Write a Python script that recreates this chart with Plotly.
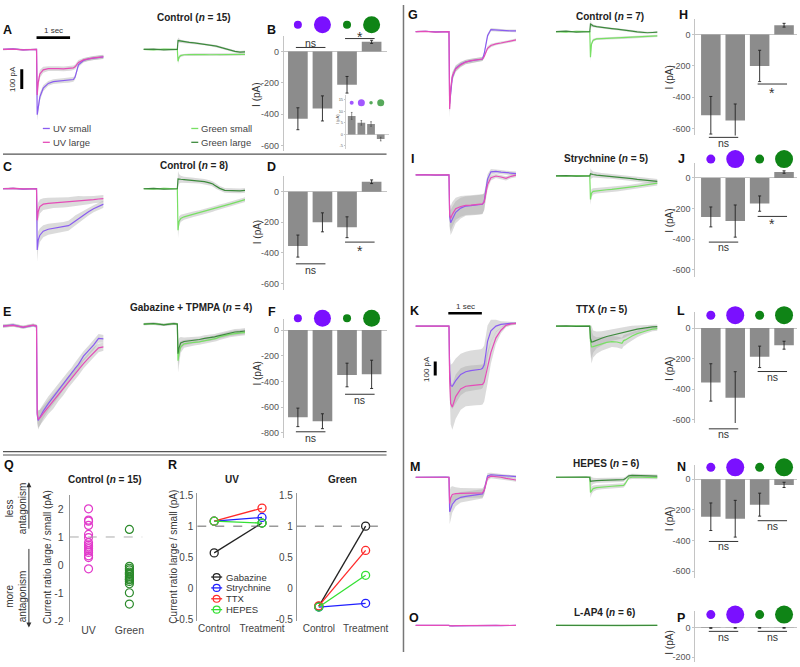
import plotly.graph_objects as go

W, H = 800, 667
FONT = "Liberation Sans, Arial, Helvetica, sans-serif"

# ---------------------------------------------------------------- data
# time grid of the mean current traces (s); light on 1.0 s, off ~2.05 s
T = [0.0, 0.3, 0.6, 0.9, 1.0, 1.02, 1.05, 1.1, 1.2, 1.35, 1.5, 1.65, 1.8, 1.95,
     2.0, 2.05, 2.1, 2.15, 2.25, 2.4, 2.55, 2.7, 2.85, 3.0]

# A  Control (n = 15)  [pA]
A_UV_SMALL = [0, 3, -2, 2, 0, -330, -290, -240, -196, -172, -163, -160, -158, -156, -155, -154, -152, -140, -78, -56, -48, -44, -40, -38]
A_UV_LARGE = [0, 2, -2, 1, 0, -230, -168, -124, -103, -97, -96, -97, -98, -97, -96, -95, -93, -88, -66, -53, -47, -43, -40, -37]
A_UV_SEM = [4, 4, 4, 4, 4, 30, 25, 20, 15, 12, 12, 12, 12, 12, 12, 12, 12, 12, 12, 10, 10, 10, 10, 10]
A_GR_SMALL = [0, -2, 2, -1, 0, -60, -40, -31, -27, -26, -25, -25, -26, -27, -27, -27, -26, -26, -27, -28, -28, -27, -26, -25]
A_GR_LARGE = [0, 2, -2, 1, 0, 45, 44, 42, 39, 36, 33, 30, 27, 24, 22, 20, 19, 17, 12, 4, -4, -10, -14, -12]
A_GR_SEM = [3, 3, 3, 3, 3, 15, 10, 7, 6, 6, 6, 6, 6, 6, 6, 6, 6, 6, 6, 6, 6, 6, 6, 6]

# C  Control (n = 8)
C_UV_SMALL = [0, 2, -2, 1, 0, -310, -260, -235, -215, -205, -200, -197, -193, -187, -182, -176, -168, -160, -150, -133, -116, -101, -89, -78]
C_UV_LARGE = [0, 2, -1, 1, 0, -160, -115, -90, -78, -74, -72, -71, -70, -68, -67, -66, -65, -64, -62, -60, -58, -55, -52, -50]
C_UV_SEM = [4, 4, 4, 4, 4, 60, 45, 35, 30, 28, 26, 25, 25, 25, 25, 25, 25, 25, 25, 22, 20, 18, 18, 18]
C_GR_SMALL = [0, -2, 2, -1, 0, -210, -165, -150, -142, -135, -128, -122, -116, -108, -105, -103, -100, -97, -92, -85, -78, -70, -62, -55]
C_GR_LARGE = [0, 2, -2, 1, 0, 50, 50, 48, 46, 44, 42, 40, 36, 30, 28, 24, 18, 12, 2, -8, -10, -12, -11, -8]
C_GR_SEM = [3, 3, 3, 3, 3, 40, 25, 18, 15, 14, 14, 13, 13, 13, 13, 13, 13, 13, 12, 12, 12, 12, 12, 12]

# E  Gabazine + TPMPA (n = 4)
E_UV_SMALL = [0, 6, -6, 4, 0, -450, -478, -460, -430, -392, -360, -328, -292, -258, -250, -240, -226, -214, -194, -152, -124, -96, -62, -65]
E_UV_LARGE = [0, 4, -5, 5, 0, -440, -470, -465, -442, -410, -384, -348, -318, -282, -275, -262, -252, -240, -222, -190, -162, -134, -110, -105]
E_UV_SEM = [8, 8, 8, 8, 8, 40, 45, 40, 38, 35, 35, 33, 32, 30, 30, 30, 30, 30, 28, 25, 25, 25, 22, 20]
E_GR_SMALL = [0, 2, -3, 3, 0, -185, -150, -115, -100, -95, -92, -90, -85, -80, -78, -76, -74, -72, -65, -58, -52, -48, -44, -42]
E_GR_LARGE = [0, 3, -4, 2, 0, -150, -120, -95, -88, -85, -80, -78, -72, -70, -68, -66, -65, -62, -58, -52, -45, -40, -38, -35]
E_GR_SEM = [6, 6, 6, 6, 6, 60, 50, 30, 20, 18, 16, 15, 15, 15, 15, 15, 15, 15, 15, 15, 15, 15, 15, 15]

# G  Control (n = 7)
G_UV_SMALL = [0, 3, -2, 2, 0, -520, -440, -330, -265, -235, -218, -210, -205, -200, -198, -160, -90, -30, 15, 12, 8, 6, 5, 6]
G_UV_LARGE = [0, 2, -3, 1, 0, -560, -420, -320, -270, -240, -220, -210, -205, -200, -198, -180, -145, -120, -100, -88, -82, -76, -68, -60]
G_UV_SEM = [4, 4, 4, 4, 4, 60, 45, 30, 22, 18, 15, 14, 14, 14, 14, 14, 14, 14, 12, 10, 10, 10, 10, 10]
G_GR_SMALL = [0, -3, 3, -1, 0, -185, -90, -62, -52, -50, -48, -47, -46, -45, -45, -44, -44, -43, -42, -40, -38, -36, -33, -30]
G_GR_LARGE = [0, 4, -3, 2, 0, 55, 48, 42, 36, 30, 26, 22, 18, 15, 14, 12, 10, 8, 4, -2, -6, -8, -6, -4]
G_GR_SEM = [4, 4, 4, 4, 4, 30, 15, 10, 8, 8, 8, 8, 8, 8, 8, 8, 8, 8, 8, 8, 8, 8, 8, 8]

# I  Strychnine (n = 5)
I_UV_SMALL = [0, 2, -2, 1, 0, -300, -345, -320, -270, -240, -225, -222, -220, -216, -212, -190, -110, -30, 22, 25, 20, 15, 12, 10]
I_UV_LARGE = [0, 1, -2, 2, 0, -290, -315, -285, -245, -228, -220, -218, -216, -213, -210, -195, -130, -70, -20, -8, -15, -25, -10, -2]
I_UV_SEM = [5, 5, 5, 5, 5, 80, 90, 90, 80, 75, 70, 70, 70, 70, 70, 60, 50, 35, 20, 15, 15, 15, 15, 15]
I_GR_SMALL = [0, -2, 2, -1, 0, -170, -125, -112, -108, -104, -100, -97, -94, -90, -88, -87, -85, -83, -80, -75, -70, -64, -58, -52]
I_GR_LARGE = [0, 2, -2, 1, 0, 15, 12, 10, 6, 3, 0, -3, -6, -9, -10, -12, -14, -16, -20, -25, -30, -34, -38, -40]
I_GR_SEM = [4, 4, 4, 4, 4, 40, 30, 22, 20, 18, 18, 18, 18, 18, 18, 18, 18, 18, 18, 18, 18, 18, 18, 18]

# K  TTX (n = 5)
K_UV_SMALL = [0, 1, -1, 1, 0, -320, -430, -435, -395, -350, -330, -322, -318, -312, -305, -280, -200, -110, -35, 0, 12, 18, 20, 20]
K_UV_LARGE = [0, 1, -1, 1, 0, -380, -560, -585, -510, -455, -435, -430, -428, -425, -422, -405, -350, -300, -190, -85, -30, 5, 16, 20]
K_UV_SEM = [4, 4, 4, 4, 4, 110, 150, 165, 160, 150, 145, 145, 145, 145, 145, 140, 130, 115, 80, 45, 22, 14, 12, 10]
K_GR_SMALL = [0, -2, 2, -1, 0, -110, -150, -148, -140, -128, -118, -112, -115, -125, -105, -100, -92, -85, -72, -55, -42, -32, -22, -18]
K_GR_LARGE = [0, 2, -2, 1, 0, -90, -115, -112, -100, -88, -75, -66, -58, -50, -46, -42, -38, -35, -28, -22, -16, -10, -6, -4]
K_GR_SEM = [4, 4, 4, 4, 4, 90, 120, 80, 60, 50, 45, 40, 40, 40, 40, 38, 36, 34, 30, 25, 20, 18, 16, 15]

# M  HEPES (n = 6)
M_UV_SMALL = [0, 2, -1, 1, 0, -250, -230, -195, -165, -145, -138, -133, -128, -122, -120, -95, -30, 10, 18, 15, 10, 7, 5, 5]
M_UV_LARGE = [0, 1, -2, 1, 0, -190, -150, -125, -118, -116, -115, -115, -114, -114, -113, -95, -45, -5, 8, 5, 0, -8, -15, -20]
M_UV_SEM = [4, 4, 4, 4, 4, 90, 80, 60, 45, 38, 35, 34, 34, 34, 34, 30, 25, 20, 15, 12, 12, 12, 12, 12]
M_GR_SMALL = [0, -1, 2, -1, 0, -110, -95, -82, -75, -70, -67, -65, -62, -60, -59, -45, -20, -5, 0, 2, 0, -2, -2, -3]
M_GR_LARGE = [0, 2, -1, 1, 0, -30, -28, -26, -24, -22, -21, -20, -19, -18, -17, -10, 2, 10, 14, 12, 10, 9, 8, 8]
M_GR_SEM = [4, 4, 4, 4, 4, 40, 30, 22, 18, 16, 16, 16, 16, 16, 16, 14, 12, 12, 12, 12, 12, 12, 12, 12]

# O  L-AP4 (n = 6)
O_UV_SMALL = [0, 1, -1, 0, 0, -3, -4, -3, -3, -2, -3, -2, -3, -2, -2, -2, -1, -1, -1, 0, -1, 0, -1, 0]
O_UV_LARGE = [0, 1, 0, -1, 0, -2, -3, -3, -2, -2, -2, -3, -2, -2, -2, -1, -1, 0, -1, 0, 0, -1, 0, 0]
O_UV_SEM = [2, 2, 2, 2, 2, 2, 2, 2, 2, 2, 2, 2, 2, 2, 2, 2, 2, 2, 2, 2, 2, 2, 2, 2]
O_GR_SMALL = [0, -1, 1, 0, 0, -2, -2, -2, -1, -1, -2, -1, -1, -1, -1, -1, 0, -1, 0, 0, 0, -1, 0, 0]
O_GR_LARGE = [0, 1, 0, 0, 0, 1, 1, 0, 0, 1, 0, 0, 1, 0, 0, 0, 1, 0, 0, 0, 1, 0, 0, 0]
O_GR_SEM = [2, 2, 2, 2, 2, 2, 2, 2, 2, 2, 2, 2, 2, 2, 2, 2, 2, 2, 2, 2, 2, 2, 2, 2]

# bar charts: mean peak current and SEM (pA) for the four stimuli
STIMULI = ["UV small", "UV large", "Green small", "Green large"]
SPOT_SIZE = ["small", "large", "small", "large"]
B_MEAN = [-430, -364, -213, 61]
B_ERR = [70, 80, 53, 10]
B_INSET_MEAN = [8, 5, 4.5, -2]
B_INSET_ERR = [1.5, 1.0, 1.0, 0.8]
D_MEAN = [-355, -200, -232, 65]
D_ERR = [72, 62, 68, 12]
F_MEAN = [-680, -710, -350, -345]
F_ERR = [72, 58, 92, 110]
H_MEAN = [-515, -548, -200, 60]
H_ERR = [120, 105, 100, 12]
J_MEAN = [-255, -282, -168, 38]
J_ERR = [65, 105, 50, 8]
L_MEAN = [-355, -455, -188, -112]
L_ERR = [122, 170, 70, 26]
N_MEAN = [-245, -258, -166, -37]
N_ERR = [90, 120, 75, 17]
P_MEAN = [-4, -3, -3, -3]
P_ERR = [2, 2, 2, 2]
TICKS_600 = [0, -200, -400, -600]
TICKS_800 = [0, -200, -400, -600, -800]

# Q: current ratio large / small for each cell
Q_CATS = ["UV", "Green"]
Q_UV = [2.0, 1.6, 1.56, 1.41, 1.09, 0.98, 0.8, 0.72, 0.65, 0.59, 0.51, 0.45, 0.33, 0.27, -0.13]
Q_GREEN = [1.27, -0.04, -0.11, -0.17, -0.25, -0.3, -0.33, -0.4, -0.46, -0.5, -0.52, -0.58, -0.66, -0.98, -1.38]

# R: ratio control -> treatment
R_CONDS = ["Control", "Treatment"]
R_DRUGS = ["Gabazine", "Strychnine", "TTX", "HEPES"]
R_UV = [[0.57, 1.05], [1.08, 1.14], [1.08, 1.29], [1.08, 1.05]]
R_GREEN = [[-0.29, 1.0], [-0.3, -0.24], [-0.28, 0.61], [-0.3, 0.21]]
RATIO_TICKS_Q = [-2, -1, 0, 1, 2]
RATIO_TICKS_R = [-0.5, 0, 0.5, 1, 1.5]

# ---------------------------------------------------------------- style
UV_SMALL_C = "#8a5cf0"
UV_LARGE_C = "#e54cb8"
GR_SMALL_C = "#78e064"
GR_LARGE_C = "#3d8a3d"
CIRC_UV = "#7a10ff"
CIRC_GR = "#0f8416"
BAR_C = "#8c8c8c"
BAND = "rgba(170,170,170,0.42)"
AXIS_GRAY = "#c4c4c4"
R_COLORS = ["#222222", "#2020ff", "#ff2a2a", "#33e033"]

fig = go.Figure()
lay = dict(width=W, height=H, autosize=False, margin=dict(l=0, r=0, t=0, b=0, pad=0),
           paper_bgcolor="white", plot_bgcolor="rgba(0,0,0,0)",
           font=dict(family=FONT, size=10, color="#333"), showlegend=False)
shapes, annots = [], []
axis_count = [0]


def px2x(px):
    return px / W


def px2y(py):
    return 1 - py / H


def make_axes(x0, x1, top, bot, xr, yr):
    axis_count[0] += 1
    n = axis_count[0]
    s = "" if n == 1 else str(n)
    lay["xaxis" + s] = dict(domain=[px2x(x0), px2x(x1)], range=xr, anchor="y" + s, visible=False,
                            fixedrange=True, showgrid=False, zeroline=False)
    lay["yaxis" + s] = dict(domain=[max(0, px2y(bot)), min(1, px2y(top))], range=yr, anchor="x" + s,
                            visible=False, fixedrange=True, showgrid=False, zeroline=False)
    return "x" + s, "y" + s, "xaxis" + s, "yaxis" + s


def text(s, px, py, size=10, bold=False, color="#222", angle=0, xanchor="center"):
    if bold:
        s = "<b>" + s + "</b>"
    annots.append(dict(text=s, x=px2x(px), y=px2y(py), xref="paper", yref="paper", showarrow=False,
                       font=dict(size=size, color=color, family=FONT), textangle=angle,
                       xanchor=xanchor, yanchor="middle"))


def pline(x0, y0, x1, y1, color="#333", width=1, dash=None):
    shapes.append(dict(type="line", xref="paper", yref="paper", x0=px2x(x0), y0=px2y(y0),
                       x1=px2x(x1), y1=px2y(y1), line=dict(color=color, width=width, dash=dash)))


def trace_panel(x0, x1, top, bot, base, scale, series, sem):
    yr = [-(bot - base) / scale * 100, (base - top) / scale * 100]
    xa, ya, _, _ = make_axes(x0, x1, top, bot, [T[0], T[-1]], yr)
    for vals, _c in series:
        up = [v + e for v, e in zip(vals, sem)]
        lo = [v - e for v, e in zip(vals, sem)]
        fig.add_trace(go.Scatter(x=T + T[::-1], y=up + lo[::-1], fill="toself", fillcolor=BAND,
                                 mode="lines", line=dict(width=0), xaxis=xa, yaxis=ya, hoverinfo="skip"))
    for vals, c in series:
        fig.add_trace(go.Scatter(x=T, y=vals, mode="lines", line=dict(color=c, width=1.2),
                                 xaxis=xa, yaxis=ya))
    return xa, ya


def bar_panel(ax_px, right_px, top, bot, zero, px200, c0, sp, means, errs, tickvals,
              circle_py=None, circle_px=(8, 17), sigs=(), ylab=None):
    yr = [-(bot - zero) / px200 * 200, (zero - top) / px200 * 200]
    xr = [-(c0 - ax_px) / sp, (right_px - c0) / sp]
    xa, ya, xk, yk = make_axes(ax_px, right_px, top, bot, xr, yr)
    lay[yk].update(visible=True, showline=True, linecolor=AXIS_GRAY, linewidth=1, ticks="outside",
                   ticklen=2, tickcolor=AXIS_GRAY, tickvals=tickvals, ticktext=[str(v) for v in tickvals],
                   tickfont=dict(size=9, color="#555"), zeroline=True, zerolinecolor=AXIS_GRAY,
                   zerolinewidth=1)
    idx = list(range(len(STIMULI)))
    fig.add_trace(go.Bar(x=idx, y=means, width=0.8, marker=dict(color=BAR_C, line=dict(width=0)),
                         error_y=dict(type="data", array=errs, visible=True, color="#222",
                                      thickness=0.9, width=1.5),
                         xaxis=xa, yaxis=ya))
    if circle_py is not None:
        # stimulus spots drawn on their own strip of axes above the bars
        cxa, cya, _, _ = make_axes(ax_px, right_px, circle_py - 12, circle_py + 12, xr, [-1, 1])
        sizes = [circle_px[0] if s == "small" else circle_px[1] for s in SPOT_SIZE]
        cols = [CIRC_UV if n.startswith("UV") else CIRC_GR for n in STIMULI]
        fig.add_trace(go.Scatter(x=idx, y=[0] * len(idx), mode="markers", opacity=1,
                                 marker=dict(size=sizes, color=cols, opacity=1, line=dict(width=0)),
                                 xaxis=cxa, yaxis=cya))
    for (i, j, lpy, lab, tpy) in sigs:
        pline(c0 + i * sp - 2, lpy, c0 + j * sp + 3, lpy, color="#333", width=1)
        text(lab, c0 + (i + j) / 2 * sp + 0.5, tpy, size=(14 if lab == "*" else 10.5), color="#333")
    if ylab:
        text("I (pA)", ylab[0], ylab[1], size=10, color="#333", angle=-90)
    return xa, ya


def scalebar(xa, ya, t0, t1, yh, tv, y0, y1):
    shapes.append(dict(type="line", xref=xa, yref=ya, x0=t0, x1=t1, y0=yh, y1=yh,
                       line=dict(color="black", width=2.6)))
    shapes.append(dict(type="line", xref=xa, yref=ya, x0=tv, x1=tv, y0=y0, y1=y1,
                       line=dict(color="black", width=3)))


# ---------------------------------------------------------------- trace panels
xa, ya = trace_panel(3, 104, 28, 124, 47, 20, [(A_UV_SMALL, UV_SMALL_C), (A_UV_LARGE, UV_LARGE_C)], A_UV_SEM)
scalebar(xa, ya, 1.0, 2.0, 60, 0.56, -100, -200)
trace_panel(144, 246, 28, 124, 47, 20, [(A_GR_SMALL, GR_SMALL_C), (A_GR_LARGE, GR_LARGE_C)], A_GR_SEM)
trace_panel(3, 104, 170, 270, 188, 20, [(C_UV_SMALL, UV_SMALL_C), (C_UV_LARGE, UV_LARGE_C)], C_UV_SEM)
trace_panel(144, 246, 170, 270, 188, 20, [(C_GR_SMALL, GR_SMALL_C), (C_GR_LARGE, GR_LARGE_C)], C_GR_SEM)
trace_panel(3, 104, 305, 434, 327, 20, [(E_UV_SMALL, UV_SMALL_C), (E_UV_LARGE, UV_LARGE_C)], E_UV_SEM)
trace_panel(144, 246, 305, 434, 325, 20, [(E_GR_SMALL, GR_SMALL_C), (E_GR_LARGE, GR_LARGE_C)], E_GR_SEM)

trace_panel(417, 518, 5, 135, 29, 14, [(G_UV_SMALL, UV_SMALL_C), (G_UV_LARGE, UV_LARGE_C)], G_UV_SEM)
trace_panel(558, 660, 5, 135, 29, 14, [(G_GR_SMALL, GR_SMALL_C), (G_GR_LARGE, GR_LARGE_C)], G_GR_SEM)
trace_panel(417, 518, 150, 245, 174, 14, [(I_UV_SMALL, UV_SMALL_C), (I_UV_LARGE, UV_LARGE_C)], I_UV_SEM)
trace_panel(558, 660, 150, 245, 175, 14, [(I_GR_SMALL, GR_SMALL_C), (I_GR_LARGE, GR_LARGE_C)], I_GR_SEM)
xa, ya = trace_panel(417, 518, 300, 436, 327, 14, [(K_UV_SMALL, UV_SMALL_C), (K_UV_LARGE, UV_LARGE_C)], K_UV_SEM)
scalebar(xa, ya, 0.98, 1.98, 93, 0.59, -257, -357)
trace_panel(558, 660, 300, 436, 327, 14, [(K_GR_SMALL, GR_SMALL_C), (K_GR_LARGE, GR_LARGE_C)], K_GR_SEM)
trace_panel(417, 518, 460, 545, 480, 14, [(M_UV_SMALL, UV_SMALL_C), (M_UV_LARGE, UV_LARGE_C)], M_UV_SEM)
trace_panel(558, 660, 460, 545, 480, 14, [(M_GR_SMALL, GR_SMALL_C), (M_GR_LARGE, GR_LARGE_C)], M_GR_SEM)
trace_panel(417, 518, 615, 645, 630, 14, [(O_UV_SMALL, UV_SMALL_C), (O_UV_LARGE, UV_LARGE_C)], O_UV_SEM)
trace_panel(558, 660, 615, 645, 630, 14, [(O_GR_SMALL, GR_SMALL_C), (O_GR_LARGE, GR_LARGE_C)], O_GR_SEM)

# ---------------------------------------------------------------- bar panels
LC0, LSP = 299, 24.67
RC0, RSP = 713.5, 24.5
RS = (9, 18)
bar_panel(285, 388, 33, 150, 49, 31.7, LC0, LSP, B_MEAN, B_ERR, TICKS_600, circle_py=22,
          sigs=[(0, 1, 45, "ns", 40), (2, 3, 36, "*", 34)], ylab=(258, 93))
bar_panel(285, 388, 175, 290, 191, 31, LC0, LSP, D_MEAN, D_ERR, TICKS_600,
          sigs=[(0, 1, 264, "ns", 270), (2, 3, 242, "*", 251)], ylab=(258, 232))
bar_panel(285, 388, 320, 440, 331, 26, LC0, LSP, F_MEAN, F_ERR, TICKS_800, circle_py=319,
          sigs=[(2, 3, 396, "ns", 402), (0, 1, 434, "ns", 440)], ylab=(258, 375))
bar_panel(698, 800, 16, 134, 32, 31.7, RC0, RSP, H_MEAN, H_ERR, TICKS_600,
          sigs=[(2, 3, 82, "*", 91), (0, 1, 136, "ns", 142)], ylab=(672, 75))
bar_panel(698, 800, 162, 277, 177, 31, RC0, RSP, J_MEAN, J_ERR, TICKS_600, circle_py=158, circle_px=RS,
          sigs=[(2, 3, 216, "*", 224), (0, 1, 242, "ns", 247)], ylab=(672, 220))
bar_panel(698, 800, 313, 425, 329, 31, RC0, RSP, L_MEAN, L_ERR, TICKS_600, circle_py=316, circle_px=RS,
          sigs=[(2, 3, 373, "ns", 378.5), (0, 1, 431, "ns", 436)], ylab=(672, 370))
bar_panel(698, 800, 468, 582, 482, 31, RC0, RSP, N_MEAN, N_ERR, TICKS_600, circle_py=470, circle_px=RS,
          sigs=[(2, 3, 524, "ns", 529), (0, 1, 545, "ns", 550)], ylab=(672, 522))
bar_panel(698, 800, 615, 667, 632, 30, RC0, RSP, P_MEAN, P_ERR, [0, -200], circle_py=619, circle_px=RS,
          sigs=[(0, 1, 636, "ns", 641.5), (2, 3, 636, "ns", 641.5)], ylab=(672, 647))

# inset of B
ixa, iya, ixk, iyk = make_axes(347, 390, 93, 148, [-0.62, 3.81], [-6.4, 17.1])
lay[iyk].update(visible=True, showline=True, linecolor=AXIS_GRAY, linewidth=0.8, ticks="outside", ticklen=1,
                tickcolor=AXIS_GRAY, tickvals=[-5, 0, 5, 10, 15], ticktext=["-5", "0", "5", "10", "15"],
                tickfont=dict(size=4, color="#666"), zeroline=True, zerolinecolor=AXIS_GRAY, zerolinewidth=0.8)
fig.add_trace(go.Bar(x=list(range(4)), y=B_INSET_MEAN, width=0.8, marker=dict(color=BAR_C, line=dict(width=0)),
                     error_y=dict(type="data", array=B_INSET_ERR, visible=True, color="#444", thickness=0.6, width=0.8),
                     xaxis=ixa, yaxis=iya))
fig.add_trace(go.Scatter(x=list(range(4)), y=[13.7] * 4, mode="markers",
                         marker=dict(size=[4, 7, 3.5, 7], color=[CIRC_UV, CIRC_UV, CIRC_GR, CIRC_GR], line=dict(width=0)),
                         xaxis=ixa, yaxis=iya))
text("I (pA)", 339, 118, size=4, color="#555", angle=-90)

# ---------------------------------------------------------------- Q
qxa, qya, qxk, qyk = make_axes(70, 143, 498, 627, [-0.46, 1.32], [-2.035, 2.49])
lay[qyk].update(visible=True, showline=True, linecolor="#999", linewidth=1, ticks="", ticklabelstandoff=3,
                tickvals=RATIO_TICKS_Q, ticktext=[str(v) for v in RATIO_TICKS_Q],
                tickfont=dict(size=10.5, color="#444"))
lay[qxk].update(visible=True, showline=False, ticks="", tickvals=[0, 1], ticktext=Q_CATS,
                tickfont=dict(size=10.5, color="#444"))
shapes.append(dict(type="line", xref=qxa, yref=qya, x0=-0.46, x1=1.32, y0=1, y1=1,
                   line=dict(color="#aaa", width=1, dash="dash")))
fig.add_trace(go.Scatter(x=[0] * len(Q_UV), y=Q_UV, mode="markers", xaxis=qxa, yaxis=qya,
                         marker=dict(symbol="circle-open", size=8, color="#e23ccb", line=dict(width=1.2))))
fig.add_trace(go.Scatter(x=[1] * len(Q_GREEN), y=Q_GREEN, mode="markers", xaxis=qxa, yaxis=qya,
                         marker=dict(symbol="circle-open", size=8, color="#2b8a2b", line=dict(width=1.2))))

# ---------------------------------------------------------------- R
for (x0, x1, c0x, sp, data) in [(198, 283, 215, 48, R_UV), (298, 387, 320, 47, R_GREEN)]:
    rxa, rya, rxk, ryk = make_axes(x0, x1, 496, 626, [-(c0x - x0) / sp, (x1 - c0x) / sp], [-0.532, 1.532])
    lay[ryk].update(visible=True, showline=True, linecolor="#999", linewidth=1, ticks="", ticklabelstandoff=1,
                    tickvals=RATIO_TICKS_R, ticktext=[str(v) for v in RATIO_TICKS_R],
                    tickfont=dict(size=10, color="#444"))
    lay[rxk].update(visible=True, showline=False, ticks="", tickvals=[0, 1], ticktext=R_CONDS,
                    tickfont=dict(size=10, color="#444"))
    shapes.append(dict(type="line", xref=rxa, yref=rya, x0=-(c0x - x0) / sp, x1=(x1 - c0x) / sp, y0=1, y1=1,
                       line=dict(color="#666", width=1, dash="dash")))
    for vals, col in zip(data, R_COLORS):
        fig.add_trace(go.Scatter(x=[0, 1], y=vals, mode="lines+markers", xaxis=rxa, yaxis=rya,
                                 line=dict(color=col, width=1.3),
                                 marker=dict(symbol="circle-open", size=8, color=col, line=dict(width=1.3))))

# R legend (manual, compact)
for k, (name, col) in enumerate(zip(R_DRUGS, R_COLORS)):
    yy = 581 + k * 11
    pline(212, yy, 223, yy, color=col, width=1.3)
    shapes.append(dict(type="circle", xref="paper", yref="paper", x0=px2x(214), x1=px2x(221),
                       y0=px2y(yy + 3.5), y1=px2y(yy - 3.5), line=dict(color=col, width=1.2)))
    text(name, 225, yy, size=9.5, color="#333", xanchor="left")

# A legend (manual)
for (name, col, lx, yy) in [("UV small", UV_SMALL_C, 43, 127), ("UV large", UV_LARGE_C, 43, 141),
                            ("Green small", GR_SMALL_C, 192, 127), ("Green large", GR_LARGE_C, 192, 141)]:
    pline(lx, yy, lx + 7, yy, color=col, width=1.3)
    text(name, lx + 8, yy, size=9.5, color="#444", xanchor="left")

# ---------------------------------------------------------------- texts
for lab, x, y in [("A", 8, 27), ("B", 273, 27), ("C", 8, 166), ("D", 273, 166), ("E", 7, 313),
                  ("F", 273, 313), ("Q", 9, 468), ("R", 173, 468), ("G", 415, 12), ("H", 686, 12),
                  ("I", 414, 158), ("J", 684, 158), ("K", 416, 312), ("L", 684, 312), ("M", 417, 470),
                  ("N", 684, 470), ("O", 416, 622), ("P", 684, 622)]:
    text(lab, x, y, size=12.5, bold=True, color="#111")

for t, x, y in [("Control (<i>n</i> = 15)", 195, 15), ("Control (<i>n</i> = 8)", 195, 164),
                ("Gabazine + TPMPA (<i>n</i> = 4)", 192, 308), ("Control (<i>n</i> = 7)", 612, 14),
                ("Strychnine (<i>n</i> = 5)", 608, 157), ("TTX (<i>n</i> = 5)", 604, 310),
                ("HEPES (<i>n</i> = 6)", 608, 466), ("L-AP4 (<i>n</i> = 6)", 607, 617),
                ("Control (<i>n</i> = 15)", 105, 482), ("UV", 233, 482), ("Green", 344, 482)]:
    text(t, x, y, size=10, bold=True, color="#222")

text("1 sec", 54, 28, size=8, color="#333")
text("100 pA", 12, 77, size=8, color="#333", angle=-90)
text("1 sec", 467, 307, size=8, color="#333")
text("100 pA", 428, 370, size=8, color="#333", angle=-90)

text("Current ratio large / small (pA)", 47, 561, size=10, color="#333", angle=-90)
text("Current ratio large / small (pA)", 174, 560, size=10, color="#333", angle=-90)
text("less<br>antagonism", 15.5, 511, size=10, color="#333", angle=-90)
text("more<br>antagonism", 15.5, 600, size=10, color="#333", angle=-90)
for head, tail in [(485, 533), (632, 552)]:
    annots.append(dict(x=px2x(29), y=px2y(head), xref="paper", yref="paper", text="", showarrow=True,
                       ax=0, ay=tail - head, arrowhead=2, arrowsize=1, arrowwidth=1, arrowcolor="#333"))

# separators
pline(3, 153, 388, 153, color="#555", width=1.2)
pline(3, 454, 388, 454, color="#555", width=1.2)
pline(3, 457.5, 388, 457.5, color="#555", width=1.2)
pline(405, 2, 405, 657, color="#777", width=1.5)

lay["shapes"] = shapes
lay["annotations"] = annots
fig.update_layout(**lay)
fig.write_html("out.html", include_plotlyjs=True, full_html=True,
               config={"displayModeBar": False, "staticPlot": True},
               post_script="document.body.style.margin='0';")
